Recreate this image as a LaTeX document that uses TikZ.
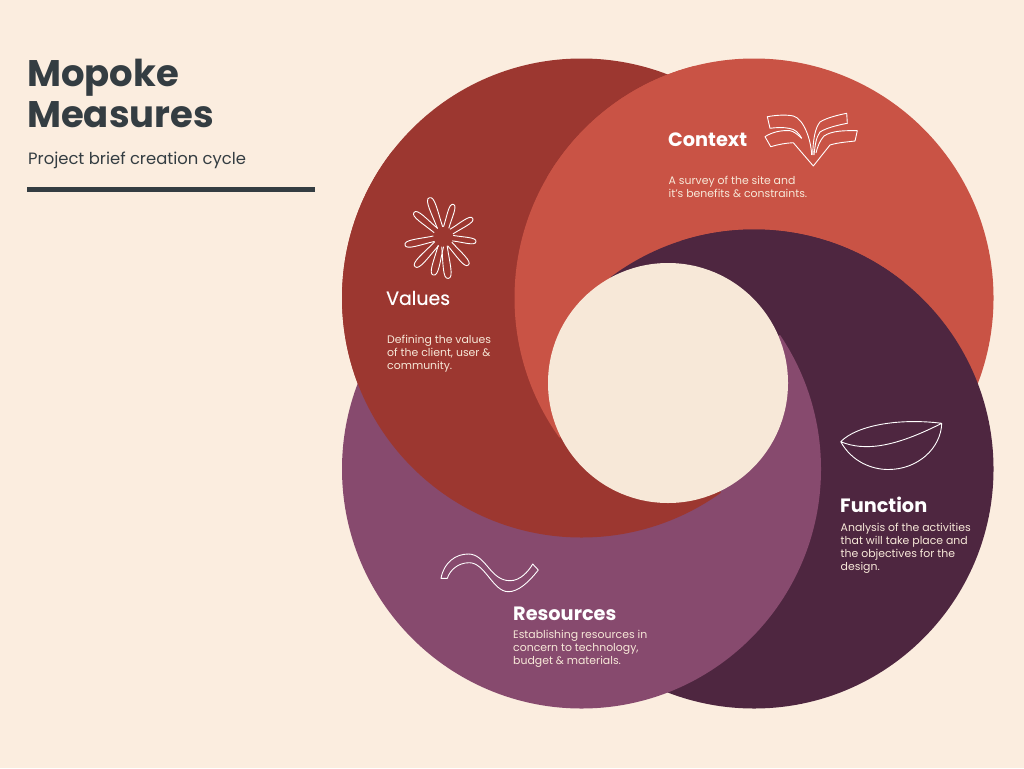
\documentclass[tikz,border=0pt]{standalone}
\usepackage{fontspec}
\setmainfont{Poppins}
\newfontfamily\mediumfont[FakeBold=0.35]{Poppins}
\definecolor{paper}{HTML}{FBEDDF}
\definecolor{inkdark}{HTML}{343D42}
\definecolor{valuescol}{HTML}{9C3730}
\definecolor{contextcol}{HTML}{C95345}
\definecolor{functioncol}{HTML}{4E2640}
\definecolor{resourcescol}{HTML}{874A6E}
\definecolor{hubcol}{HTML}{F7E8D8}
\tikzset{
  heading/.style={anchor=west,inner sep=0pt,text=white,font=\fontsize{19.3}{21}\selectfont\bfseries},
  bodytext/.style={anchor=west,inner sep=0pt,align=left,text=hubcol,font=\fontsize{10.9}{12.9}\selectfont},
  titletext/.style={anchor=west,inner sep=0pt,text=inkdark,font=\fontsize{37}{42}\selectfont\bfseries},
  iconline/.style={draw=white,line width=0.9pt,line join=round}
}
\begin{document}
\begin{tikzpicture}[x=1pt,y=-1pt]
    \useasboundingbox (0,0) rectangle (1024,768);
    \fill[paper] (0,0) rectangle (1024,768);

    % Full discs, back to front
    \fill[valuescol] (581.5,298) circle (239.5pt);
    \fill[contextcol] (754,298) circle (239.5pt);
    \fill[functioncol] (754,469) circle (239.5pt);
    \fill[resourcescol] (581.5,469) circle (239.5pt);

    % Wedges from the hub, so that each disc overlaps the next one
    \begin{scope}
        \clip (668,383) -- (792,640) -- (200,768) -- (200,150) -- (530,150) -- cycle;
        \fill[valuescol] (581.5,298) circle (239.5pt);
    \end{scope}
    \begin{scope}
        \clip (668,383) -- (304,566) -- (200,566) -- (200,0) -- (700,0) -- cycle;
        \fill[contextcol] (754,298) circle (239.5pt);
    \end{scope}
    \begin{scope}
        \clip (668,383) -- (462,0) -- (1024,0) -- (1024,230) -- cycle;
        \fill[functioncol] (754,469) circle (239.5pt);
    \end{scope}

    % Hub
    \fill[hubcol] (668,383) circle (120pt);

    % Title block
    \node[titletext] (title1) at (27,78) {Mopoke};
    \node[titletext] (title2) at (27,115) {Measures};
    \node[anchor=west,inner sep=0pt,text=inkdark,font=\fontsize{16.4}{18}\selectfont] (subtitle) at (28,160) {Project brief creation cycle};
    \fill[inkdark] (27,187) rectangle (315,192);

    % Labels
    \node[heading] (context) at (668,140) {Context};
    \node[bodytext] (contextbody) at (668.5,187) {A survey of the site and\\it's benefits \& constraints.};
    \node[heading,font=\fontsize{18.9}{21}\selectfont\mediumfont] (values) at (386,298) {Values};
    \node[bodytext] (valuesbody) at (387,354) {Defining the values\\of the client, user \&\\community.};
    \node[heading] (function) at (840,505) {Function};
    \node[bodytext] (functionbody) at (840.5,548) {Analysis of the activities\\that will take place and\\the objectives for the\\design.};
    \node[heading] (resources) at (513,614) {Resources};
    \node[bodytext] (resourcesbody) at (513,649) {Establishing resources in\\concern to technology,\\budget \& materials.};

    % Book icon
    \draw[iconline] (801.7,138.3) .. controls (798,132) and (795,129.5) .. (790,128.5)
        .. controls (783,127) and (776,127.5) .. (770,128.3) -- (767.3,116.7)
        .. controls (777,115) and (786,114.5) .. (793.3,116)
        .. controls (804,119) and (811,140) .. (811.7,155);
    \draw[iconline] (801.7,138.3) .. controls (797,134) and (794,131.5) .. (790,130.7)
        .. controls (782,130) and (772,132) .. (765,136.7) -- (770.7,146.7)
        .. controls (778,144.5) and (786,143) .. (793.3,142.7) -- (813.3,166) -- (830,145)
        .. controls (838,142.5) and (847,142) .. (855,141) -- (857.3,130.7)
        .. controls (845,130.5) and (832,130.5) .. (824,136)
        .. controls (820,140) and (817,148) .. (816,153);
    \draw[iconline] (812.7,155) .. controls (813,140) and (815,128) .. (820,122)
        .. controls (826,118) and (838,115) .. (846.7,113.3) -- (847.3,123.3)
        .. controls (838,125) and (826,128) .. (820,132)
        .. controls (816,137) and (815,146) .. (814,155);

    % Flower icon
    \begin{scope}[shift={(443.3,236.7)}]
        \foreach \a/\l in {-109.7/41.4,-72.8/33.8,-32/34.6,8.7/33,48.5/37.8,83.2/42,104.6/39.6,133.3/41.2,167.8/39.2,-140.3/38}
            \draw[iconline] (\a-16:10) .. controls (\a-7:\l*0.6) and (\a-8:\l*1.02) .. (\a:\l)
                .. controls (\a+8:\l*1.02) and (\a+7:\l*0.6) .. (\a+16:10);
    \end{scope}

    % Bowl icon
    \draw[iconline] (840.7,441.7) .. controls (857,425) and (900,418) .. (941.7,423.3)
        .. controls (941,448) and (918,469.5) .. (888.3,469.5)
        .. controls (872,469.5) and (852,462) .. (840.7,441.7)
        .. controls (865,451.7) and (895,447) .. (941.7,423.3);

    % Wave icon
    \draw[iconline] (441,578.3) .. controls (444,562) and (456,554) .. (468.3,554)
        .. controls (486,554) and (490,580.7) .. (510,580.7)
        .. controls (520,580.7) and (528,572) .. (532.7,564) -- (538.3,570)
        .. controls (528,583) and (518,591.7) .. (508.3,591.7)
        .. controls (493,591.7) and (485,562.7) .. (469.3,562.7)
        .. controls (458,562.7) and (450,570) .. (447.3,578.3) -- cycle;
\end{tikzpicture}
\end{document}
